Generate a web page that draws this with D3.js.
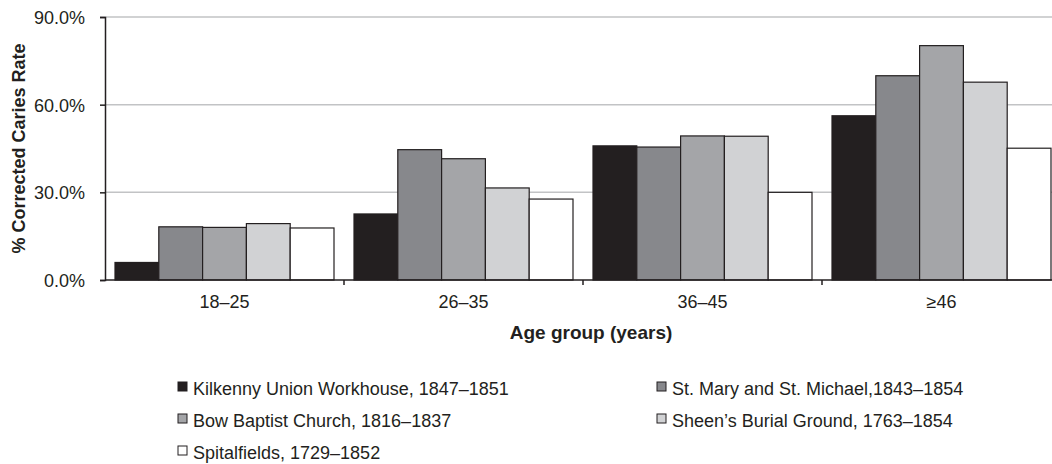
<!DOCTYPE html>
<html>
  <head>
    <meta charset="utf-8">
    <title>Corrected caries rate by age group</title>
    <style>
      body{
        margin: 0;
        background-color: #FFF;
      }

      svg{
        display: block;
      }

      text{
        font-family: "Liberation Sans", Arial, sans-serif;
        fill: #231f20;
      }

      .tick text{
        font-size: 18px;
        font-family: "Liberation Sans", Arial, sans-serif;
        fill: #231f20;
      }

      .axis-title{
        font-weight: bold;
      }

      .legend text{
        font-size: 18px;
      }
    </style>
  </head>

  <body>
  </body>

  <script src="https://d3js.org/d3.v7.min.js"></script>
  <script>
const width = 1052;
const height = 464;

// data
const ageGroups = ['18–25', '26–35', '36–45', '≥46'];
const sites = [
  'Kilkenny Union Workhouse, 1847–1851',
  'St. Mary and St. Michael,1843–1854',
  'Bow Baptist Church, 1816–1837',
  'Sheen’s Burial Ground, 1763–1854',
  'Spitalfields, 1729–1852'
];
const kilkenny = [6.0, 22.6, 45.9, 56.2];
const stMary = [18.2, 44.6, 45.5, 69.9];
const bowBaptist = [18.0, 41.5, 49.3, 80.2];
const sheens = [19.3, 31.5, 49.2, 67.7];
const spitalfields = [17.8, 27.7, 30.0, 45.1];
const yTicks = [0, 30, 60, 90];

const series = [kilkenny, stMary, bowBaptist, sheens, spitalfields];
const fills = ['#231f20', '#87888c', '#a4a5a8', '#d1d2d4', '#ffffff'];

const margin = { top: 17, left: 105, bottom: 280 };
const bandWidth = 239;

const svg = d3.select('body')
  .append('svg')
  .attr('width', width)
  .attr('height', height);

const x = d3.scaleBand()
  .domain(ageGroups)
  .range([margin.left, margin.left + bandWidth * ageGroups.length])
  .paddingInner(0)
  .paddingOuter(0);

const xInner = d3.scaleBand()
  .domain(d3.range(series.length))
  .range([10, bandWidth - 10]);

const y = d3.scaleLinear()
  .domain([0, 90])
  .range([margin.bottom, margin.top]);

// gridlines
svg.append('g')
  .selectAll('line')
  .data(yTicks.filter((d) => d > 0))
  .join('line')
    .attr('x1', margin.left)
    .attr('x2', width)
    .attr('y1', (d) => y(d))
    .attr('y2', (d) => y(d))
    .attr('stroke', '#c2c3c5')
    .attr('stroke-width', 1.5);

// bars
const rows = ageGroups.map((g, i) => ({ group: g, values: series.map((s) => s[i]) }));

svg.append('g')
  .selectAll('g')
  .data(rows)
  .join('g')
    .attr('transform', (d) => `translate(${x(d.group)},0)`)
  .selectAll('rect')
  .data((d) => d.values.map((v, k) => ({ k, v })))
  .join('rect')
    .attr('x', (d) => xInner(d.k))
    .attr('width', xInner.bandwidth())
    .attr('y', (d) => y(d.v))
    .attr('height', (d) => y(0) - y(d.v))
    .attr('fill', (d) => fills[d.k])
    .attr('stroke', '#231f20')
    .attr('stroke-width', 1.2);

// y axis
const yAxis = svg.append('g')
  .attr('transform', `translate(${margin.left},0)`)
  .call(d3.axisLeft(y).tickValues(yTicks).tickSize(5).tickPadding(15)
    .tickFormat((d) => d.toFixed(1) + '%'));
yAxis.select('.domain').attr('stroke', '#231f20').attr('stroke-width', 1.5);
yAxis.selectAll('.tick line').attr('stroke', '#231f20').attr('stroke-width', 1.5);
yAxis.selectAll('.tick text').attr('dy', '0.36em');

// x axis, ticks at band boundaries
const xAxis = svg.append('g')
  .attr('transform', `translate(0,${margin.bottom})`);
xAxis.append('line')
  .attr('x1', margin.left)
  .attr('x2', width)
  .attr('stroke', '#231f20')
  .attr('stroke-width', 1.5);
xAxis.selectAll('line.tick')
  .data(ageGroups.slice(1))
  .join('line')
    .attr('class', 'tick')
    .attr('x1', (d) => x(d))
    .attr('x2', (d) => x(d))
    .attr('y1', 0)
    .attr('y2', 5)
    .attr('stroke', '#231f20')
    .attr('stroke-width', 1.5);
xAxis.selectAll('text')
  .data(ageGroups)
  .join('text')
    .attr('x', (d) => x(d) + x.bandwidth() / 2)
    .attr('y', 28)
    .attr('text-anchor', 'middle')
    .style('font-size', '18px')
    .text((d) => d);

svg.append('text')
  .attr('class', 'axis-title')
  .attr('x', 591)
  .attr('y', 339)
  .attr('text-anchor', 'middle')
  .style('font-size', '19px')
  .text('Age group (years)');

svg.append('text')
  .attr('class', 'axis-title')
  .attr('transform', `translate(25,${(margin.top + margin.bottom) / 2}) rotate(-90)`)
  .attr('text-anchor', 'middle')
  .style('font-size', '18px')
  .text('% Corrected Caries Rate');

// legend, two columns
const legendCols = [178, 657];
const legendRows = [386.5, 418.5, 450.5];

const legend = svg.append('g')
  .attr('class', 'legend')
  .selectAll('g')
  .data(sites)
  .join('g')
    .attr('transform', (d, i) => `translate(${legendCols[i % 2]},${legendRows[Math.floor(i / 2)]})`);

legend.append('rect')
  .attr('x', 0)
  .attr('y', -4.5)
  .attr('width', 9)
  .attr('height', 9)
  .attr('fill', (d, i) => fills[i])
  .attr('stroke', '#231f20')
  .attr('stroke-width', 1);

legend.append('text')
  .attr('x', 15)
  .attr('y', 8.5)
  .text((d) => d);
  </script>
</html>
